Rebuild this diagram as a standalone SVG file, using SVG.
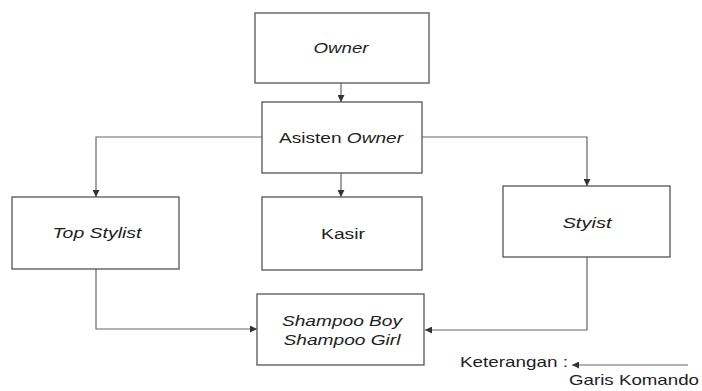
<svg xmlns="http://www.w3.org/2000/svg" width="702" height="391" viewBox="0 0 702 391">
<defs>
<style>
.box{fill:#fff;stroke:#555;stroke-width:1.3}
.ln{fill:none;stroke:#666;stroke-width:1.2}
.t{font-family:"Liberation Sans",Arial,sans-serif;font-size:14px;fill:#1e1e1e;text-anchor:middle}
.i{font-style:italic}
.k{font-family:"Liberation Sans",Arial,sans-serif;font-size:15px;fill:#1e1e1e}
</style>
<marker id="ah" viewBox="0 0 8 8" refX="8" refY="4" markerWidth="7" markerHeight="7" markerUnits="userSpaceOnUse" orient="auto">
<path d="M0,0 L8,4 L0,8 Z" fill="#333"/>
</marker>
</defs>
<rect width="702" height="391" fill="#fff"/>
<g id="connectors">
<path class="ln" d="M341,83 V102" marker-end="url(#ah)"/>
<path class="ln" d="M262,137 H96 V197" marker-end="url(#ah)"/>
<path class="ln" d="M341,173 V197" marker-end="url(#ah)"/>
<path class="ln" d="M422,137 H587 V186" marker-end="url(#ah)"/>
<path class="ln" d="M96,269 V329 H257" marker-end="url(#ah)"/>
<path class="ln" d="M587,257 V330 H425" marker-end="url(#ah)"/>
</g>
<g id="owner">
<rect class="box" x="255" y="13" width="174" height="70"/>
<text class="t i" x="341" y="53" textLength="55" lengthAdjust="spacingAndGlyphs">Owner</text>
</g>
<g id="asisten-owner">
<rect class="box" x="262" y="102" width="160" height="71"/>
<text class="t" x="341" y="143" textLength="124" lengthAdjust="spacingAndGlyphs">Asisten <tspan class="i">Owner</tspan></text>
</g>
<g id="top-stylist">
<rect class="box" x="12" y="197" width="167" height="72"/>
<text class="t i" x="97" y="238" textLength="89" lengthAdjust="spacingAndGlyphs">Top Stylist</text>
</g>
<g id="kasir">
<rect class="box" x="262" y="197" width="160" height="73"/>
<text class="t" x="343" y="239" textLength="44" lengthAdjust="spacingAndGlyphs">Kasir</text>
</g>
<g id="styist">
<rect class="box" x="503" y="186" width="167" height="71"/>
<text class="t i" x="587" y="228" textLength="49" lengthAdjust="spacingAndGlyphs">Styist</text>
</g>
<g id="shampoo">
<rect class="box" x="257" y="294" width="167" height="71"/>
<text class="t i" x="342" y="326" textLength="120" lengthAdjust="spacingAndGlyphs">Shampoo Boy</text>
<text class="t i" x="342" y="345" textLength="117" lengthAdjust="spacingAndGlyphs">Shampoo Girl</text>
</g>
<g id="legend">
<text class="k" x="460" y="367" textLength="108" lengthAdjust="spacingAndGlyphs">Keterangan :</text>
<path class="ln" d="M688,365 H572" marker-end="url(#ah)"/>
<text class="k" x="569" y="385" textLength="130" lengthAdjust="spacingAndGlyphs">Garis Komando</text>
</g>
</svg>
